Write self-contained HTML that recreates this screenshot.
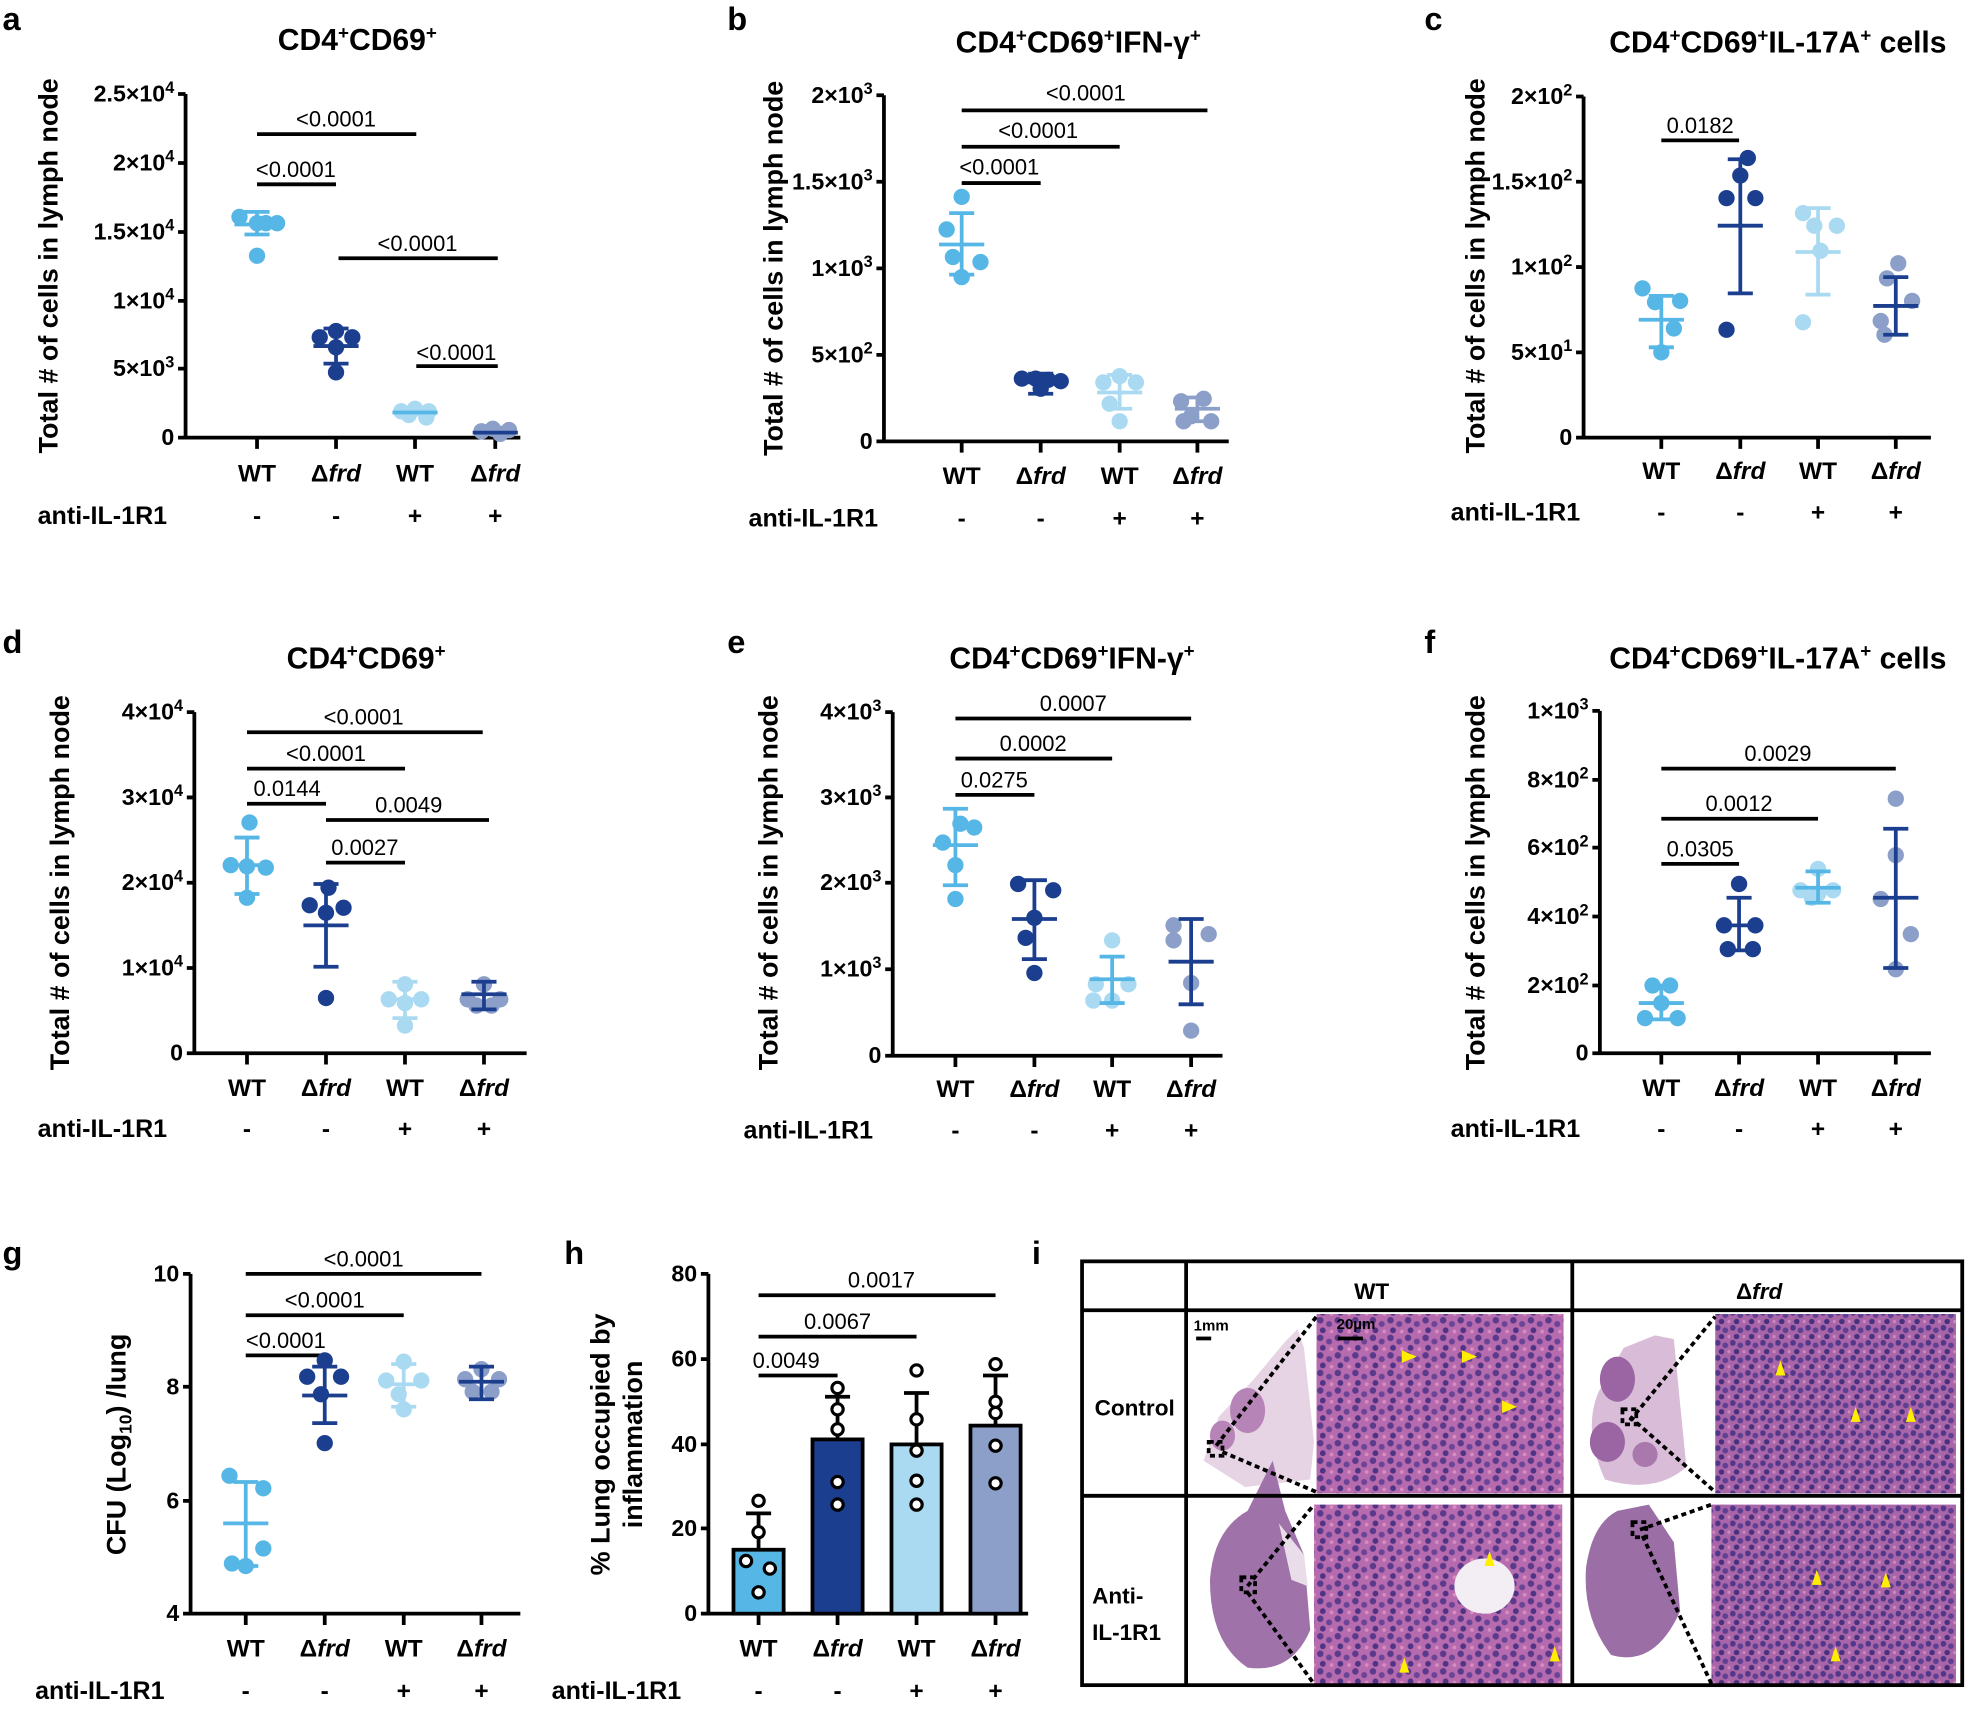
<!DOCTYPE html>
<html><head><meta charset="utf-8"><style>
html,body{margin:0;padding:0;background:#fff;}
svg{display:block;}
text{font-family:"Liberation Sans",Arial,sans-serif;}
.t{font-size:18.5px;font-weight:bold;text-anchor:end;}
.x{font-size:19.5px;font-weight:bold;text-anchor:middle;}
.p{font-size:17.5px;text-anchor:middle;}
.ti{font-size:24px;font-weight:bold;text-anchor:middle;}
.yl{font-size:21.5px;font-weight:bold;text-anchor:middle;}
.L{font-size:26px;font-weight:bold;}
</style></head><body>
<svg width="1966" height="1719" viewBox="0 0 1568 1371" xmlns="http://www.w3.org/2000/svg">
<defs>
<pattern id="he" width="14" height="14" patternUnits="userSpaceOnUse">
<rect width="14" height="14" fill="#b66bae"/>
<circle cx="3" cy="3" r="2.6" fill="#5b3a8c"/><circle cx="10" cy="6" r="2.4" fill="#6a4496"/><circle cx="5" cy="11" r="2.3" fill="#4f3384"/><circle cx="12" cy="12" r="1.5" fill="#d98cc0"/>
</pattern>
<pattern id="he2" width="12" height="12" patternUnits="userSpaceOnUse">
<rect width="12" height="12" fill="#a865a8"/>
<circle cx="2" cy="3" r="2.3" fill="#51378a"/><circle cx="8" cy="5" r="2.3" fill="#5e3f92"/><circle cx="5" cy="10" r="2.2" fill="#47307e"/><circle cx="11" cy="10" r="1.3" fill="#cf88c0"/>
</pattern>
</defs>
<rect width="1568" height="1371" fill="#fff"/>
<g fill="none" stroke="#000" stroke-width="3">
<path d="M148 75V349H415M142 75H148M142 130H148M142 185H148M142 240H148M142 294H148M142 349H148M205 349V358M268 349V358M331 349V358M395 349V358"/>
<path d="M705 76V352H980M699 76H705M699 145H705M699 214H705M699 283H705M699 352H705M767 352V361M830 352V361M893 352V361M955 352V361"/>
<path d="M1263 77V349H1540M1257 77H1263M1257 145H1263M1257 213H1263M1257 281H1263M1257 349H1263M1325 349V358M1388 349V358M1450 349V358M1512 349V358"/>
<path d="M155 568V840H420M149 568H155M149 636H155M149 704H155M149 772H155M149 840H155M197 840V849M260 840V849M323 840V849M386 840V849"/>
<path d="M712 568V842H975M706 568H712M706 636H712M706 704H712M706 773H712M706 842H712M762 842V851M825 842V851M887 842V851M950 842V851"/>
<path d="M1276 567V840H1540M1270 567H1276M1270 622H1276M1270 676H1276M1270 731H1276M1270 786H1276M1270 840H1276M1325 840V849M1387 840V849M1450 840V849M1512 840V849"/>
<path d="M152 1016V1287H415M146 1016H152M146 1106H152M146 1197H152M146 1287H152M196 1287V1296M259 1287V1296M322 1287V1296M384 1287V1296"/>
<path d="M565 1016V1287H820M559 1016H565M559 1084H565M559 1152H565M559 1219H565M559 1287H565M605 1287V1296M668 1287V1296M731 1287V1296M794 1287V1296"/>
<path d="M205 107H332M205 147H268M270 206H397M332 292H397"/>
<path d="M767 88H963M767 117H893M767 146H830"/>
<path d="M1325 112H1387"/>
<path d="M197 584H385M197 613H323M197 641H260M260 654H390M260 688H323"/>
<path d="M762 573H950M762 605H887M762 634H825"/>
<path d="M1325 613H1512M1325 653H1450M1325 689H1387"/>
<path d="M196 1016H384M196 1049H322M196 1081H259"/>
<path d="M605 1033H794M605 1066H731M605 1097H668"/>
</g>
<text class="L" x="2" y="24">a</text><text class="L" x="580" y="24">b</text><text class="L" x="1136" y="24">c</text>
<text class="L" x="2" y="521">d</text><text class="L" x="580" y="521">e</text><text class="L" x="1136" y="521">f</text>
<text class="L" x="2" y="1008">g</text><text class="L" x="450" y="1008">h</text><text class="L" x="823" y="1008">i</text>
<text class="ti" x="285" y="40">CD4<tspan dy="-9" font-size="15">+</tspan><tspan dy="9">CD69</tspan><tspan dy="-9" font-size="15">+</tspan></text>
<text class="ti" x="860" y="42">CD4<tspan dy="-9" font-size="15">+</tspan><tspan dy="9">CD69</tspan><tspan dy="-9" font-size="15">+</tspan><tspan dy="9">IFN-γ</tspan><tspan dy="-9" font-size="15">+</tspan></text>
<text class="ti" x="1418" y="42">CD4<tspan dy="-9" font-size="15">+</tspan><tspan dy="9">CD69</tspan><tspan dy="-9" font-size="15">+</tspan><tspan dy="9">IL-17A</tspan><tspan dy="-9" font-size="15">+</tspan><tspan dy="9"> cells</tspan></text>
<text class="ti" x="292" y="533">CD4<tspan dy="-9" font-size="15">+</tspan><tspan dy="9">CD69</tspan><tspan dy="-9" font-size="15">+</tspan></text>
<text class="ti" x="855" y="533">CD4<tspan dy="-9" font-size="15">+</tspan><tspan dy="9">CD69</tspan><tspan dy="-9" font-size="15">+</tspan><tspan dy="9">IFN-γ</tspan><tspan dy="-9" font-size="15">+</tspan></text>
<text class="ti" x="1418" y="533">CD4<tspan dy="-9" font-size="15">+</tspan><tspan dy="9">CD69</tspan><tspan dy="-9" font-size="15">+</tspan><tspan dy="9">IL-17A</tspan><tspan dy="-9" font-size="15">+</tspan><tspan dy="9"> cells</tspan></text>
<text class="yl" transform="translate(46 212) rotate(-90)">Total # of cells in lymph node</text>
<text class="yl" transform="translate(624 214) rotate(-90)">Total # of cells in lymph node</text>
<text class="yl" transform="translate(1184 212) rotate(-90)">Total # of cells in lymph node</text>
<text class="yl" transform="translate(55 704) rotate(-90)">Total # of cells in lymph node</text>
<text class="yl" transform="translate(620 704) rotate(-90)">Total # of cells in lymph node</text>
<text class="yl" transform="translate(1184 704) rotate(-90)">Total # of cells in lymph node</text>
<text class="yl" transform="translate(100 1152) rotate(-90)">CFU (Log<tspan font-size="14" dy="5">10</tspan><tspan dy="-5">) /lung</tspan></text>
<text class="yl" transform="translate(486 1152) rotate(-90)">% Lung occupied by</text>
<text class="yl" transform="translate(512 1152) rotate(-90)">inflammation</text>
<g class="t">
<text x="139" y="81">2.5×10<tspan dy="-7" font-size="13">4</tspan></text><text x="139" y="136">2×10<tspan dy="-7" font-size="13">4</tspan></text><text x="139" y="191">1.5×10<tspan dy="-7" font-size="13">4</tspan></text><text x="139" y="246">1×10<tspan dy="-7" font-size="13">4</tspan></text><text x="139" y="300">5×10<tspan dy="-7" font-size="13">3</tspan></text><text x="139" y="355">0</text>
<text x="696" y="82">2×10<tspan dy="-7" font-size="13">3</tspan></text><text x="696" y="151">1.5×10<tspan dy="-7" font-size="13">3</tspan></text><text x="696" y="220">1×10<tspan dy="-7" font-size="13">3</tspan></text><text x="696" y="289">5×10<tspan dy="-7" font-size="13">2</tspan></text><text x="696" y="358">0</text>
<text x="1254" y="83">2×10<tspan dy="-7" font-size="13">2</tspan></text><text x="1254" y="151">1.5×10<tspan dy="-7" font-size="13">2</tspan></text><text x="1254" y="219">1×10<tspan dy="-7" font-size="13">2</tspan></text><text x="1254" y="287">5×10<tspan dy="-7" font-size="13">1</tspan></text><text x="1254" y="355">0</text>
<text x="146" y="574">4×10<tspan dy="-7" font-size="13">4</tspan></text><text x="146" y="642">3×10<tspan dy="-7" font-size="13">4</tspan></text><text x="146" y="710">2×10<tspan dy="-7" font-size="13">4</tspan></text><text x="146" y="778">1×10<tspan dy="-7" font-size="13">4</tspan></text><text x="146" y="846">0</text>
<text x="703" y="574">4×10<tspan dy="-7" font-size="13">3</tspan></text><text x="703" y="642">3×10<tspan dy="-7" font-size="13">3</tspan></text><text x="703" y="710">2×10<tspan dy="-7" font-size="13">3</tspan></text><text x="703" y="779">1×10<tspan dy="-7" font-size="13">3</tspan></text><text x="703" y="848">0</text>
<text x="1267" y="573">1×10<tspan dy="-7" font-size="13">3</tspan></text><text x="1267" y="628">8×10<tspan dy="-7" font-size="13">2</tspan></text><text x="1267" y="682">6×10<tspan dy="-7" font-size="13">2</tspan></text><text x="1267" y="737">4×10<tspan dy="-7" font-size="13">2</tspan></text><text x="1267" y="792">2×10<tspan dy="-7" font-size="13">2</tspan></text><text x="1267" y="846">0</text>
<text x="143" y="1022">10</text><text x="143" y="1112">8</text><text x="143" y="1203">6</text><text x="143" y="1293">4</text>
<text x="556" y="1022">80</text><text x="556" y="1090">60</text><text x="556" y="1158">40</text><text x="556" y="1225">20</text><text x="556" y="1293">0</text>
</g>
<g class="p">
<text x="268" y="101">&lt;0.0001</text><text x="236" y="141">&lt;0.0001</text><text x="333" y="200">&lt;0.0001</text><text x="364" y="287">&lt;0.0001</text>
<text x="866" y="80">&lt;0.0001</text><text x="828" y="110">&lt;0.0001</text><text x="797" y="139">&lt;0.0001</text>
<text x="1356" y="106">0.0182</text>
<text x="290" y="578">&lt;0.0001</text><text x="260" y="607">&lt;0.0001</text><text x="229" y="635">0.0144</text><text x="326" y="648">0.0049</text><text x="291" y="682">0.0027</text>
<text x="856" y="567">0.0007</text><text x="824" y="599">0.0002</text><text x="793" y="628">0.0275</text>
<text x="1418" y="607">0.0029</text><text x="1387" y="647">0.0012</text><text x="1356" y="683">0.0305</text>
<text x="290" y="1010">&lt;0.0001</text><text x="259" y="1043">&lt;0.0001</text><text x="228" y="1075">&lt;0.0001</text>
<text x="703" y="1027">0.0017</text><text x="668" y="1060">0.0067</text><text x="627" y="1091">0.0049</text>
</g>
<g class="x">
<text x="205" y="384">WT</text><text x="268" y="384">Δ<tspan font-style="italic">frd</tspan></text><text x="331" y="384">WT</text><text x="395" y="384">Δ<tspan font-style="italic">frd</tspan></text>
<text x="767" y="386">WT</text><text x="830" y="386">Δ<tspan font-style="italic">frd</tspan></text><text x="893" y="386">WT</text><text x="955" y="386">Δ<tspan font-style="italic">frd</tspan></text>
<text x="1325" y="382">WT</text><text x="1388" y="382">Δ<tspan font-style="italic">frd</tspan></text><text x="1450" y="382">WT</text><text x="1512" y="382">Δ<tspan font-style="italic">frd</tspan></text>
<text x="197" y="874">WT</text><text x="260" y="874">Δ<tspan font-style="italic">frd</tspan></text><text x="323" y="874">WT</text><text x="386" y="874">Δ<tspan font-style="italic">frd</tspan></text>
<text x="762" y="875">WT</text><text x="825" y="875">Δ<tspan font-style="italic">frd</tspan></text><text x="887" y="875">WT</text><text x="950" y="875">Δ<tspan font-style="italic">frd</tspan></text>
<text x="1325" y="874">WT</text><text x="1387" y="874">Δ<tspan font-style="italic">frd</tspan></text><text x="1450" y="874">WT</text><text x="1512" y="874">Δ<tspan font-style="italic">frd</tspan></text>
<text x="196" y="1321">WT</text><text x="259" y="1321">Δ<tspan font-style="italic">frd</tspan></text><text x="322" y="1321">WT</text><text x="384" y="1321">Δ<tspan font-style="italic">frd</tspan></text>
<text x="605" y="1321">WT</text><text x="668" y="1321">Δ<tspan font-style="italic">frd</tspan></text><text x="731" y="1321">WT</text><text x="794" y="1321">Δ<tspan font-style="italic">frd</tspan></text>
<text x="205" y="418">-</text><text x="268" y="418">-</text><text x="331" y="418">+</text><text x="395" y="418">+</text>
<text x="767" y="420">-</text><text x="830" y="420">-</text><text x="893" y="420">+</text><text x="955" y="420">+</text>
<text x="1325" y="415">-</text><text x="1388" y="415">-</text><text x="1450" y="415">+</text><text x="1512" y="415">+</text>
<text x="197" y="907">-</text><text x="260" y="907">-</text><text x="323" y="907">+</text><text x="386" y="907">+</text>
<text x="762" y="908">-</text><text x="825" y="908">-</text><text x="887" y="908">+</text><text x="950" y="908">+</text>
<text x="1325" y="907">-</text><text x="1387" y="907">-</text><text x="1450" y="907">+</text><text x="1512" y="907">+</text>
<text x="196" y="1355">-</text><text x="259" y="1355">-</text><text x="322" y="1355">+</text><text x="384" y="1355">+</text>
<text x="605" y="1355">-</text><text x="668" y="1355">-</text><text x="731" y="1355">+</text><text x="794" y="1355">+</text>
</g>
<g style="font-size:20px;font-weight:bold">
<text x="30" y="418">anti-IL-1R1</text><text x="597" y="420">anti-IL-1R1</text><text x="1157" y="415">anti-IL-1R1</text>
<text x="30" y="907">anti-IL-1R1</text><text x="593" y="908">anti-IL-1R1</text><text x="1157" y="907">anti-IL-1R1</text>
<text x="28" y="1355">anti-IL-1R1</text><text x="440" y="1355">anti-IL-1R1</text>
</g>
<g>
<g fill="#56b6e5"><circle cx="191" cy="173" r="6.5"/><circle cx="205" cy="178" r="6.5"/><circle cx="212" cy="178" r="6.5"/><circle cx="221" cy="178" r="6.5"/><circle cx="205" cy="204" r="6.5"/></g>
<g fill="#1b3e8f"><circle cx="255" cy="269" r="6.5"/><circle cx="268" cy="264" r="6.5"/><circle cx="281" cy="269" r="6.5"/><circle cx="268" cy="277" r="6.5"/><circle cx="268" cy="297" r="6.5"/></g>
<g fill="#aadaf2"><circle cx="320" cy="328" r="6.5"/><circle cx="331" cy="326" r="6.5"/><circle cx="342" cy="328" r="6.5"/><circle cx="326" cy="331" r="6.5"/><circle cx="340" cy="333" r="6.5"/></g>
<g fill="#8b9fc9"><circle cx="384" cy="344" r="6.5"/><circle cx="393" cy="342" r="6.5"/><circle cx="406" cy="343" r="6.5"/><circle cx="399" cy="346" r="6.5"/></g>
<g fill="none" stroke-width="3"><path stroke="#56b6e5" d="M187 179H223M205 169V187M195 169H215M195 187H215"/><path stroke="#1b3e8f" d="M250 276H286M268 262V290M258 262H278M258 290H278"/><path stroke="#56b6e5" d="M313 329H349"/><path stroke="#1b3e8f" d="M377 345H413"/></g>
<g fill="#56b6e5"><circle cx="767" cy="157" r="6.5"/><circle cx="755" cy="183" r="6.5"/><circle cx="782" cy="209" r="6.5"/><circle cx="760" cy="205" r="6.5"/><circle cx="767" cy="221" r="6.5"/></g>
<g fill="#1b3e8f"><circle cx="815" cy="302" r="6.5"/><circle cx="826" cy="302" r="6.5"/><circle cx="836" cy="303" r="6.5"/><circle cx="846" cy="304" r="6.5"/><circle cx="830" cy="310" r="6.5"/></g>
<g fill="#aadaf2"><circle cx="880" cy="305" r="6.5"/><circle cx="893" cy="300" r="6.5"/><circle cx="906" cy="305" r="6.5"/><circle cx="885" cy="322" r="6.5"/><circle cx="893" cy="336" r="6.5"/></g>
<g fill="#8b9fc9"><circle cx="942" cy="320" r="6.5"/><circle cx="960" cy="318" r="6.5"/><circle cx="950" cy="332" r="6.5"/><circle cx="944" cy="336" r="6.5"/><circle cx="966" cy="336" r="6.5"/></g>
<g fill="none" stroke-width="3"><path stroke="#56b6e5" d="M749 195H785M767 170V219M757 170H777M757 219H777"/><path stroke="#1b3e8f" d="M812 305H848M830 298V314M820 298H840M820 314H840"/><path stroke="#aadaf2" d="M875 313H911M893 299V326M883 299H903M883 326H903"/><path stroke="#8b9fc9" d="M937 326H973M955 317V336M945 317H965M945 336H965"/></g>
<g fill="#56b6e5"><circle cx="1310" cy="230" r="6.5"/><circle cx="1340" cy="240" r="6.5"/><circle cx="1320" cy="241" r="6.5"/><circle cx="1335" cy="262" r="6.5"/><circle cx="1325" cy="281" r="6.5"/></g>
<g fill="#1b3e8f"><circle cx="1394" cy="126" r="6.5"/><circle cx="1388" cy="140" r="6.5"/><circle cx="1377" cy="158" r="6.5"/><circle cx="1400" cy="158" r="6.5"/><circle cx="1377" cy="263" r="6.5"/></g>
<g fill="#aadaf2"><circle cx="1438" cy="170" r="6.5"/><circle cx="1465" cy="180" r="6.5"/><circle cx="1447" cy="180" r="6.5"/><circle cx="1452" cy="200" r="6.5"/><circle cx="1438" cy="257" r="6.5"/></g>
<g fill="#8b9fc9"><circle cx="1514" cy="210" r="6.5"/><circle cx="1505" cy="222" r="6.5"/><circle cx="1525" cy="240" r="6.5"/><circle cx="1500" cy="256" r="6.5"/><circle cx="1503" cy="267" r="6.5"/></g>
<g fill="none" stroke-width="3"><path stroke="#56b6e5" d="M1307 255H1343M1325 236V277M1315 236H1335M1315 277H1335"/><path stroke="#1b3e8f" d="M1370 180H1406M1388 127V234M1378 127H1398M1378 234H1398"/><path stroke="#aadaf2" d="M1432 201H1468M1450 166V235M1440 166H1460M1440 235H1460"/><path stroke="#1b3e8f" d="M1494 244H1530M1512 221V267M1502 221H1522M1502 267H1522"/></g>
<g fill="#56b6e5"><circle cx="199" cy="656" r="6.5"/><circle cx="184" cy="690" r="6.5"/><circle cx="197" cy="691" r="6.5"/><circle cx="212" cy="692" r="6.5"/><circle cx="197" cy="716" r="6.5"/></g>
<g fill="#1b3e8f"><circle cx="262" cy="708" r="6.5"/><circle cx="247" cy="722" r="6.5"/><circle cx="274" cy="724" r="6.5"/><circle cx="260" cy="728" r="6.5"/><circle cx="260" cy="796" r="6.5"/></g>
<g fill="#aadaf2"><circle cx="323" cy="785" r="6.5"/><circle cx="310" cy="797" r="6.5"/><circle cx="336" cy="797" r="6.5"/><circle cx="323" cy="800" r="6.5"/><circle cx="323" cy="818" r="6.5"/></g>
<g fill="#8b9fc9"><circle cx="386" cy="785" r="6.5"/><circle cx="373" cy="797" r="6.5"/><circle cx="399" cy="797" r="6.5"/><circle cx="380" cy="802" r="6.5"/><circle cx="392" cy="802" r="6.5"/></g>
<g fill="none" stroke-width="3"><path stroke="#56b6e5" d="M179 690H215M197 668V713M187 668H207M187 713H207"/><path stroke="#1b3e8f" d="M242 738H278M260 705V771M250 705H270M250 771H270"/><path stroke="#aadaf2" d="M305 797H341M323 783V812M313 783H333M313 812H333"/><path stroke="#1b3e8f" d="M368 793H404M386 783V805M376 783H396M376 805H396"/></g>
<g fill="#56b6e5"><circle cx="766" cy="657" r="6.5"/><circle cx="777" cy="660" r="6.5"/><circle cx="752" cy="672" r="6.5"/><circle cx="762" cy="690" r="6.5"/><circle cx="762" cy="717" r="6.5"/></g>
<g fill="#1b3e8f"><circle cx="812" cy="705" r="6.5"/><circle cx="840" cy="710" r="6.5"/><circle cx="825" cy="732" r="6.5"/><circle cx="818" cy="748" r="6.5"/><circle cx="825" cy="776" r="6.5"/></g>
<g fill="#aadaf2"><circle cx="887" cy="750" r="6.5"/><circle cx="874" cy="785" r="6.5"/><circle cx="900" cy="785" r="6.5"/><circle cx="887" cy="798" r="6.5"/><circle cx="872" cy="798" r="6.5"/></g>
<g fill="#8b9fc9"><circle cx="936" cy="738" r="6.5"/><circle cx="964" cy="745" r="6.5"/><circle cx="936" cy="750" r="6.5"/><circle cx="950" cy="784" r="6.5"/><circle cx="950" cy="822" r="6.5"/></g>
<g fill="none" stroke-width="3"><path stroke="#56b6e5" d="M744 674H780M762 645V706M752 645H772M752 706H772"/><path stroke="#1b3e8f" d="M807 733H843M825 702V765M815 702H835M815 765H835"/><path stroke="#56b6e5" d="M869 781H905M887 763V800M877 763H897M877 800H897"/><path stroke="#1b3e8f" d="M932 767H968M950 733V801M940 733H960M940 801H960"/></g>
<g fill="#56b6e5"><circle cx="1318" cy="786" r="6.5"/><circle cx="1332" cy="786" r="6.5"/><circle cx="1325" cy="800" r="6.5"/><circle cx="1312" cy="812" r="6.5"/><circle cx="1338" cy="812" r="6.5"/></g>
<g fill="#1b3e8f"><circle cx="1387" cy="705" r="6.5"/><circle cx="1375" cy="738" r="6.5"/><circle cx="1400" cy="738" r="6.5"/><circle cx="1378" cy="757" r="6.5"/><circle cx="1398" cy="757" r="6.5"/></g>
<g fill="#aadaf2"><circle cx="1450" cy="693" r="6.5"/><circle cx="1436" cy="710" r="6.5"/><circle cx="1450" cy="713" r="6.5"/><circle cx="1462" cy="710" r="6.5"/><circle cx="1445" cy="716" r="6.5"/></g>
<g fill="#8b9fc9"><circle cx="1512" cy="637" r="6.5"/><circle cx="1512" cy="682" r="6.5"/><circle cx="1500" cy="717" r="6.5"/><circle cx="1524" cy="745" r="6.5"/><circle cx="1512" cy="773" r="6.5"/></g>
<g fill="none" stroke-width="3"><path stroke="#56b6e5" d="M1307 800H1343M1325 786V813M1315 786H1335M1315 813H1335"/><path stroke="#1b3e8f" d="M1369 738H1405M1387 716V758M1377 716H1397M1377 758H1397"/><path stroke="#56b6e5" d="M1432 708H1468M1450 695V720M1440 695H1460M1440 720H1460"/><path stroke="#1b3e8f" d="M1494 716H1530M1512 661V772M1502 661H1522M1502 772H1522"/></g>
<g fill="#56b6e5"><circle cx="183" cy="1177" r="6.5"/><circle cx="210" cy="1187" r="6.5"/><circle cx="210" cy="1235" r="6.5"/><circle cx="185" cy="1247" r="6.5"/><circle cx="196" cy="1249" r="6.5"/></g>
<g fill="#1b3e8f"><circle cx="259" cy="1085" r="6.5"/><circle cx="245" cy="1098" r="6.5"/><circle cx="272" cy="1098" r="6.5"/><circle cx="256" cy="1112" r="6.5"/><circle cx="259" cy="1151" r="6.5"/></g>
<g fill="#aadaf2"><circle cx="322" cy="1086" r="6.5"/><circle cx="308" cy="1101" r="6.5"/><circle cx="336" cy="1101" r="6.5"/><circle cx="318" cy="1112" r="6.5"/><circle cx="322" cy="1124" r="6.5"/></g>
<g fill="#8b9fc9"><circle cx="384" cy="1092" r="6.5"/><circle cx="371" cy="1100" r="6.5"/><circle cx="398" cy="1100" r="6.5"/><circle cx="377" cy="1110" r="6.5"/><circle cx="392" cy="1110" r="6.5"/></g>
<g fill="none" stroke-width="3"><path stroke="#56b6e5" d="M178 1215H214M196 1182V1249M186 1182H206M186 1249H206"/><path stroke="#1b3e8f" d="M241 1113H277M259 1090V1135M249 1090H269M249 1135H269"/><path stroke="#aadaf2" d="M304 1104H340M322 1088V1122M312 1088H332M312 1122H332"/><path stroke="#1b3e8f" d="M366 1102H402M384 1090V1116M374 1090H394M374 1116H394"/></g>
</g>
<g stroke="#000" stroke-width="3">
<path d="M605 1236V1207M595 1207H615M668 1148V1114M658 1114H678M731 1152V1111M721 1111H741M794 1137V1097M784 1097H804" fill="none"/>
<rect x="585" y="1236" width="40" height="51" fill="#56b6e5"/>
<rect x="648" y="1148" width="40" height="139" fill="#1b3e8f"/>
<rect x="711" y="1152" width="40" height="135" fill="#aadaf2"/>
<rect x="774" y="1137" width="40" height="150" fill="#8b9fc9"/>
</g>
<g fill="#fff" stroke="#000" stroke-width="2.5">
<circle cx="605" cy="1197" r="4.5"/><circle cx="605" cy="1222" r="4.5"/><circle cx="595" cy="1245" r="4.5"/><circle cx="614" cy="1251" r="4.5"/><circle cx="605" cy="1270" r="4.5"/>
<circle cx="668" cy="1107" r="4.5"/><circle cx="668" cy="1124" r="4.5"/><circle cx="668" cy="1140" r="4.5"/><circle cx="668" cy="1182" r="4.5"/><circle cx="668" cy="1200" r="4.5"/>
<circle cx="731" cy="1093" r="4.5"/><circle cx="731" cy="1132" r="4.5"/><circle cx="731" cy="1157" r="4.5"/><circle cx="731" cy="1181" r="4.5"/><circle cx="731" cy="1200" r="4.5"/>
<circle cx="794" cy="1088" r="4.5"/><circle cx="794" cy="1118" r="4.5"/><circle cx="794" cy="1127" r="4.5"/><circle cx="794" cy="1153" r="4.5"/><circle cx="794" cy="1183" r="4.5"/>
</g>
<g>
<!-- WT control lung: tall triangle -->
<path d="M993 1186 L960 1165 L972 1130 L1000 1100 L1025 1070 L1035 1060 L1040 1075 L1048 1150 L1045 1180 Z" fill="#e6d3e4"/>
<ellipse cx="995" cy="1125" rx="14" ry="18" fill="#b784b7"/>
<ellipse cx="975" cy="1145" rx="10" ry="12" fill="#b784b7"/>
<rect x="1050" y="1048" width="197" height="143" fill="url(#he)"/>
<!-- dfrd control lung -->
<path d="M1280 1180 Q1262 1140 1275 1110 L1295 1075 L1320 1065 L1335 1068 L1340 1120 L1345 1170 Q1320 1192 1280 1180Z" fill="#d9bcd7"/>
<ellipse cx="1290" cy="1100" rx="14" ry="18" fill="#9a65a2"/><ellipse cx="1282" cy="1150" rx="14" ry="16" fill="#9a65a2"/><ellipse cx="1312" cy="1160" rx="10" ry="10" fill="#a978ac"/>
<rect x="1368" y="1048" width="192" height="143" fill="url(#he2)"/>
<!-- WT anti lung -->
<path d="M995 1330 Q965 1310 965 1260 Q968 1220 995 1205 L1015 1165 L1025 1205 L1040 1240 L1045 1300 Q1030 1335 995 1330Z" fill="#9f72a9"/>
<path d="M1020 1215 L1040 1240 L1043 1265 L1030 1260Z" fill="#e8dde8"/>
<rect x="1048" y="1200" width="198" height="143" fill="url(#he)"/>
<ellipse cx="1184" cy="1265" rx="24" ry="22" fill="#f3eef3"/>
<path d="M1285 1320 Q1262 1290 1265 1250 Q1270 1215 1290 1205 L1315 1200 L1335 1230 L1340 1285 Q1320 1330 1285 1320Z" fill="#9c6ea6"/>
<rect x="1365" y="1200" width="195" height="143" fill="url(#he2)"/>
<g stroke="#000" stroke-width="3" stroke-dasharray="4 3" fill="none">
<path d="M970 1153L1050 1050M975 1158L1050 1190M1300 1133L1368 1050M1300 1130L1368 1190M995 1265L1048 1200M995 1270L1048 1343M1308 1220L1365 1200M1310 1225L1365 1343"/>
<rect x="964" y="1150" width="11" height="11"/><rect x="1294" y="1124" width="11" height="12"/><rect x="990" y="1258" width="11" height="12"/><rect x="1302" y="1214" width="11" height="12"/>
</g>
<g fill="#ffee00"><polygon points="1118,1077 1130,1082 1118,1087"/><polygon points="1166,1077 1178,1082 1166,1087"/><polygon points="1198,1117 1210,1122 1198,1127"/>
<polygon points="1420,1085 1416,1097 1424,1097"/><polygon points="1480,1122 1476,1134 1484,1134"/><polygon points="1524,1122 1520,1134 1528,1134"/>
<polygon points="1188,1237 1184,1249 1192,1249"/><polygon points="1120,1322 1116,1334 1124,1334"/><polygon points="1240,1313 1236,1325 1244,1325"/>
<polygon points="1449,1252 1445,1264 1453,1264"/><polygon points="1504,1254 1500,1266 1508,1266"/><polygon points="1464,1313 1460,1325 1468,1325"/></g>
<g fill="none" stroke="#000" stroke-width="3"><rect x="863" y="1006" width="702" height="338"/><path d="M946 1006V1344M1254 1006V1344M863 1045H1565M863 1193H1565"/></g>
<rect x="954" y="1066" width="12" height="3" fill="#000"/><rect x="1067" y="1066" width="20" height="3" fill="#000"/>
<text x="952" y="1061" font-size="12" font-weight="bold">1mm</text><text x="1066" y="1060" font-size="12" font-weight="bold">20µm</text>
<text x="1094" y="1036" font-size="18" font-weight="bold" text-anchor="middle">WT</text>
<text x="1403" y="1036" font-size="18" font-weight="bold" text-anchor="middle">Δ<tspan font-style="italic">frd</tspan></text>
<text x="873" y="1129" font-size="18" font-weight="bold">Control</text>
<text x="871" y="1279" font-size="18" font-weight="bold">Anti-</text>
<text x="871" y="1308" font-size="18" font-weight="bold">IL-1R1</text>
</g>
</svg>
</body></html>
